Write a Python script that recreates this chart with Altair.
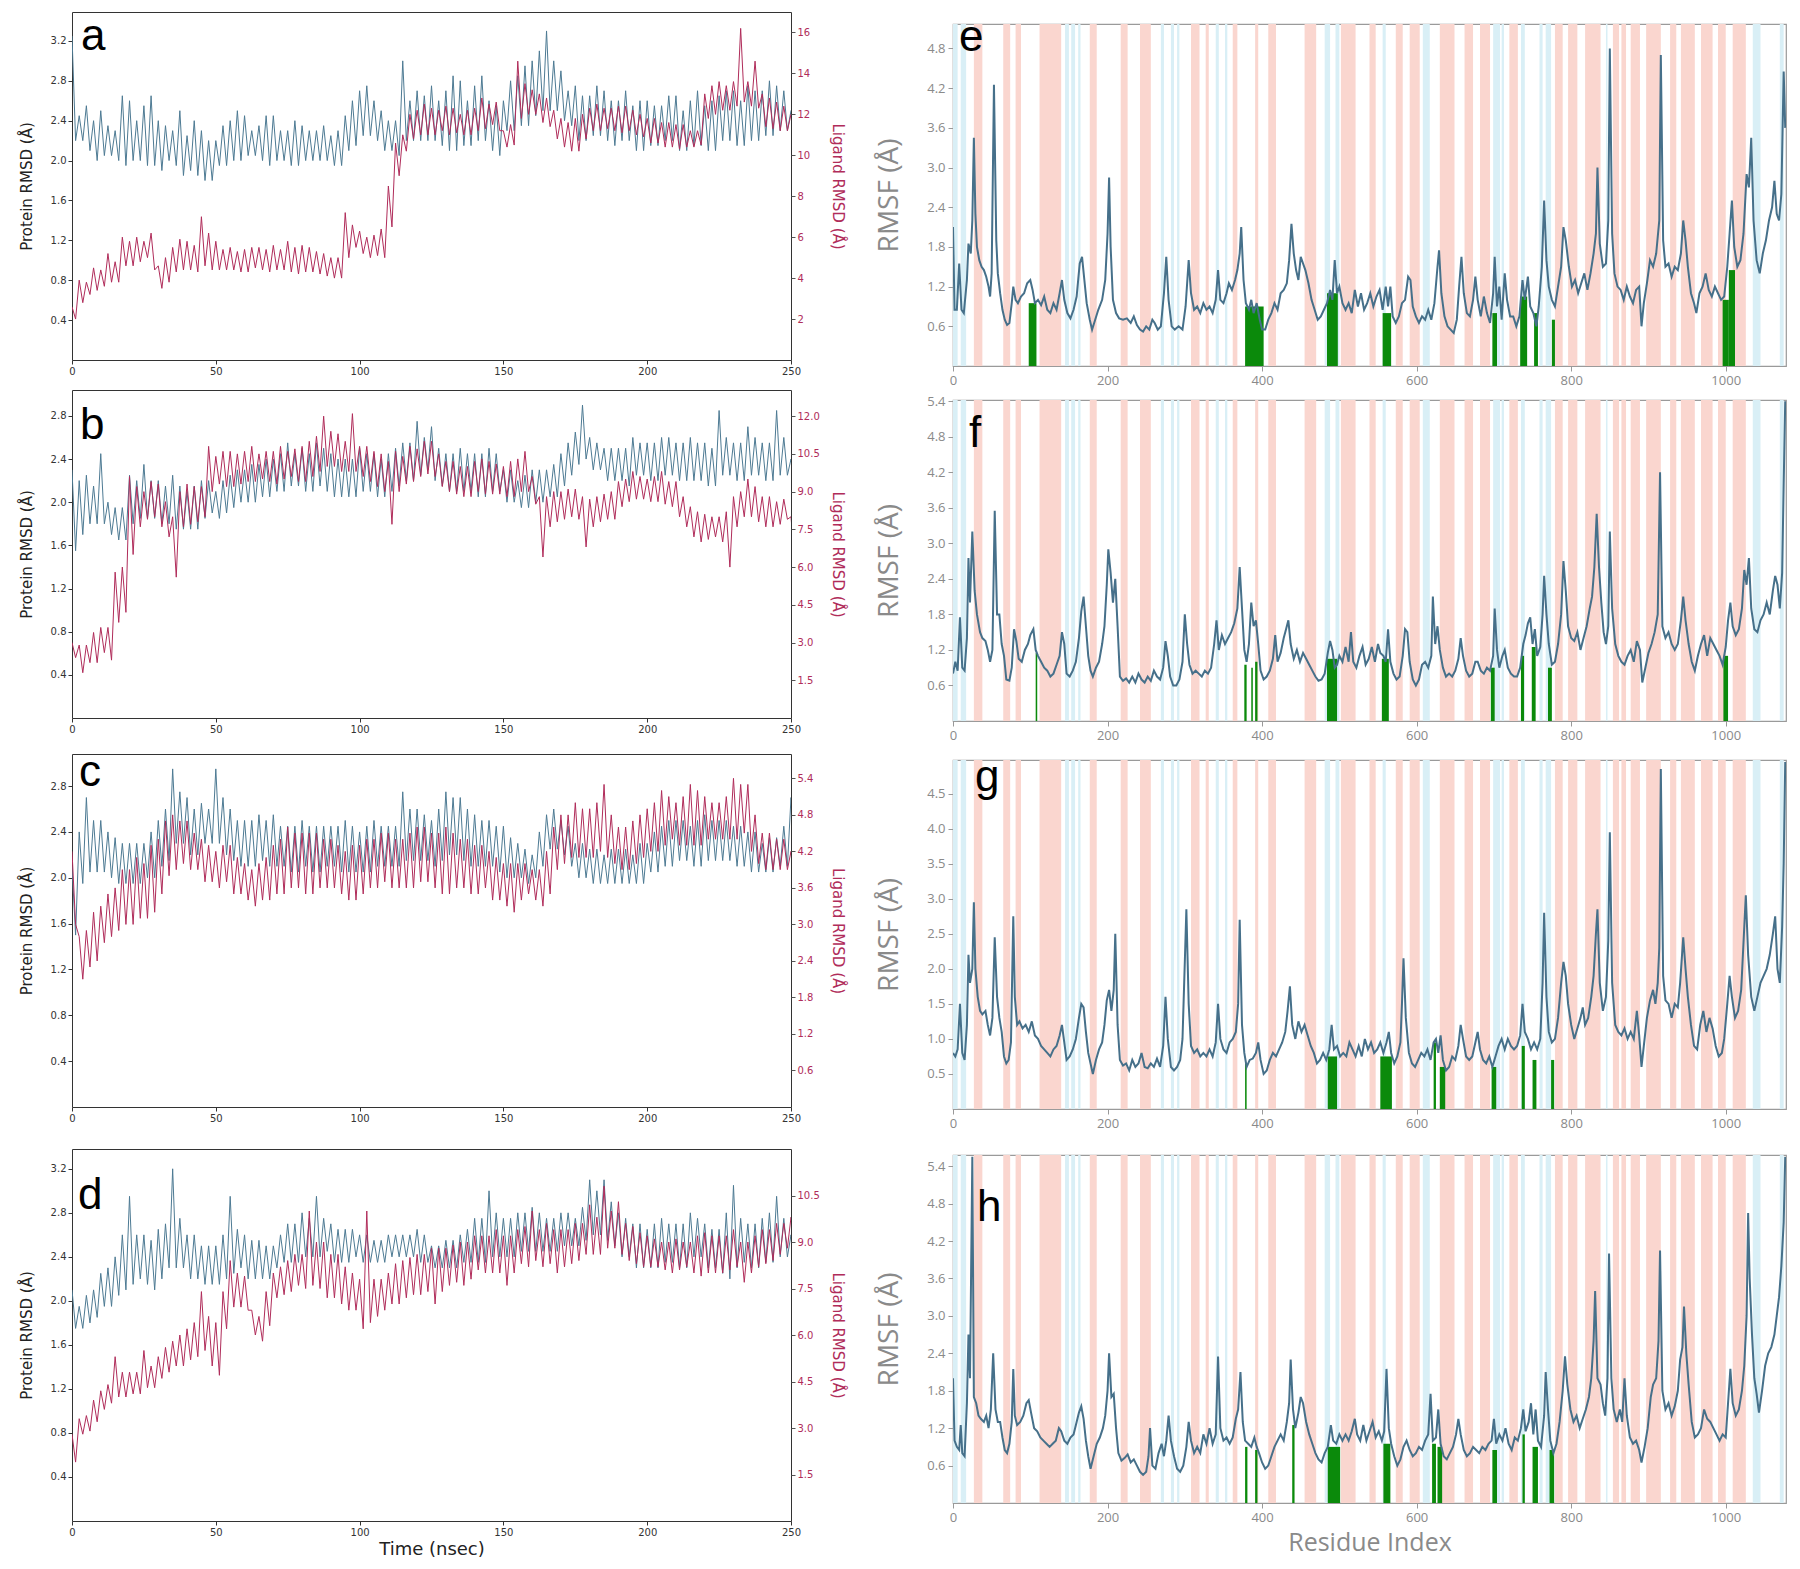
import altair as alt
import pandas as pd

# ---------------- colours / fonts ----------------
BLUE = "#4d7a93"
RED = "#b02c5a"
RMSF_BLUE = "#46708a"
GREEN = "#0b8a0b"
PINK = "#fad6cf"
LBLUE = "#d9eff6"
SANS = "DejaVu Sans"
RSANS = "Open Sans"
LETTER_FONT = "Liberation Sans"

# ---------------- RMSD data ----------------
# For every 2.5 ns window the upper (HI) and lower (LO) edge of the noisy trace,
# read off the picture. HI is drawn at the window start, LO half a window later.
WINDOW_START_NS = [2.5 * i for i in range(101)]

A_PROT_HI = [3.25, 2.45, 2.55, 2.4, 2.5, 2.35, 2.3, 2.65, 2.6, 2.4,
             2.55, 2.65, 2.4, 2.35, 2.3, 2.5, 2.25, 2.4, 2.3, 2.2,
             2.2, 2.35, 2.4, 2.5, 2.45, 2.3, 2.35, 2.45, 2.45, 2.3,
             2.3, 2.4, 2.35, 2.3, 2.3, 2.35, 2.25, 2.3, 2.45, 2.6,
             2.7, 2.75, 2.6, 2.5, 2.4, 2.4, 3.0, 2.6, 2.7, 2.65,
             2.75, 2.6, 2.7, 2.85, 2.8, 2.6, 2.75, 2.85, 2.6, 2.55,
             2.6, 2.8, 2.85, 2.95, 3.0, 3.1, 3.3, 3.0, 2.9, 2.7,
             2.75, 2.65, 2.65, 2.75, 2.7, 2.6, 2.6, 2.7, 2.55, 2.6,
             2.6, 2.55, 2.55, 2.65, 2.65, 2.5, 2.6, 2.7, 2.55, 2.6,
             2.65, 2.7, 2.7, 2.6, 2.75, 2.7, 2.7, 2.8, 2.75, 2.7,
             2.5]
A_PROT_LO = [2.2, 2.2, 2.1, 2.0, 2.05, 2.05, 2.0, 1.95, 2.0, 2.0,
             1.95, 1.95, 1.9, 2.0, 1.95, 1.85, 1.9, 1.85, 1.8, 1.8,
             1.95, 1.95, 2.0, 2.0, 2.05, 2.05, 2.0, 1.95, 2.0, 2.0,
             1.95, 1.95, 2.0, 2.0, 2.0, 2.0, 1.95, 1.95, 2.1, 2.15,
             2.25, 2.25, 2.2, 2.1, 2.1, 2.05, 2.2, 2.2, 2.2, 2.2,
             2.2, 2.15, 2.1, 2.1, 2.15, 2.15, 2.2, 2.2, 2.1, 2.05,
             2.3, 2.3, 2.35, 2.35, 2.45, 2.5, 2.5, 2.5, 2.4, 2.35,
             2.2, 2.2, 2.25, 2.25, 2.2, 2.15, 2.2, 2.2, 2.1, 2.1,
             2.15, 2.15, 2.2, 2.2, 2.1, 2.1, 2.15, 2.15, 2.1, 2.1,
             2.2, 2.2, 2.15, 2.15, 2.2, 2.2, 2.25, 2.25, 2.3, 2.3,
             2.45]
A_LIG_HI = [2.6, 3.9, 3.8, 4.5, 4.4, 5.2, 4.8, 6.0, 5.8, 6.0,
            5.8, 6.2, 4.6, 5.0, 5.5, 5.9, 5.8, 5.6, 7.0, 6.2,
            5.8, 5.4, 5.5, 5.3, 5.4, 5.5, 5.5, 5.4, 5.6, 5.4,
            5.8, 5.5, 5.6, 5.5, 5.3, 5.2, 5.0, 5.0, 7.2, 6.6,
            6.3, 6.0, 6.1, 6.4, 8.5, 10.6, 11.0, 12.0, 12.2, 12.5,
            12.3, 12.2, 12.4, 12.3, 12.0, 12.2, 12.3, 12.8, 12.5, 12.6,
            11.2, 11.5, 14.6, 13.5, 13.2, 13.0, 12.8, 12.2, 11.8, 11.6,
            11.8, 12.0, 12.3, 12.5, 12.3, 12.3, 12.4, 12.4, 12.2, 12.0,
            11.8, 11.8, 11.6, 11.6, 11.5, 11.5, 11.2, 11.2, 13.0, 13.4,
            13.6, 13.4, 13.6, 16.2, 13.6, 14.6, 13.0, 12.8, 12.6, 12.4,
            12.0]
A_LIG_LO = [2.0, 2.8, 3.2, 3.4, 3.6, 3.8, 3.8, 4.6, 4.6, 4.8,
            5.0, 4.4, 3.5, 3.8, 4.3, 4.4, 4.4, 4.3, 4.6, 4.4,
            4.4, 4.4, 4.4, 4.3, 4.3, 4.5, 4.4, 4.3, 4.4, 4.4,
            4.3, 4.2, 4.3, 4.3, 4.2, 4.1, 4.0, 4.0, 5.0, 5.5,
            5.2, 5.0, 5.1, 5.0, 6.5, 9.0, 10.2, 10.8, 11.0, 11.0,
            11.0, 11.2, 11.0, 11.1, 11.0, 11.0, 11.2, 11.3, 11.5, 11.2,
            10.4, 10.5, 11.8, 12.0, 12.0, 11.6, 11.4, 10.8, 10.4, 10.2,
            10.2, 10.8, 11.2, 11.2, 11.3, 11.2, 11.1, 11.2, 11.0, 10.9,
            10.6, 10.6, 10.4, 10.4, 10.3, 10.4, 10.4, 10.5, 11.8, 12.0,
            12.2, 12.2, 12.4, 12.6, 12.4, 12.3, 11.4, 11.3, 11.2, 11.2,
            11.6]

B_PROT_HI = [2.3, 2.2, 2.25, 2.15, 2.45, 2.0, 1.95, 1.95, 2.25, 2.2,
             2.35, 2.2, 2.2, 2.15, 2.25, 2.15, 2.1, 2.15, 2.2, 2.2,
             2.1, 2.2, 2.25, 2.3, 2.3, 2.35, 2.35, 2.4, 2.4, 2.45,
             2.55, 2.45, 2.5, 2.45, 2.55, 2.5, 2.45, 2.4, 2.4, 2.4,
             2.5, 2.45, 2.45, 2.4, 2.45, 2.5, 2.55, 2.55, 2.75, 2.6,
             2.7, 2.5, 2.45, 2.45, 2.5, 2.45, 2.45, 2.45, 2.5, 2.45,
             2.3, 2.3, 2.2, 2.25, 2.3, 2.3, 2.3, 2.35, 2.45, 2.55,
             2.65, 2.9, 2.6, 2.55, 2.5, 2.5, 2.5, 2.5, 2.6, 2.55,
             2.55, 2.55, 2.6, 2.6, 2.55, 2.55, 2.6, 2.55, 2.55, 2.5,
             2.85, 2.6, 2.55, 2.55, 2.7, 2.6, 2.55, 2.55, 2.85, 2.6,
             2.4]
B_PROT_LO = [1.55, 1.7, 1.8, 1.8, 1.8, 1.7, 1.65, 1.65, 1.8, 1.85,
             1.85, 1.85, 1.8, 1.8, 1.75, 1.75, 1.75, 1.75, 1.85, 1.9,
             1.85, 1.9, 1.95, 2.0, 2.0, 2.0, 2.05, 2.05, 2.1, 2.1,
             2.15, 2.15, 2.1, 2.1, 2.15, 2.1, 2.05, 2.05, 2.05, 2.05,
             2.1, 2.1, 2.05, 2.05, 2.1, 2.15, 2.2, 2.2, 2.25, 2.3,
             2.2, 2.15, 2.1, 2.1, 2.1, 2.1, 2.05, 2.05, 2.1, 2.1,
             2.0, 2.0, 1.95, 1.95, 2.0, 2.0, 2.05, 2.05, 2.15, 2.25,
             2.35, 2.4, 2.3, 2.3, 2.2, 2.2, 2.2, 2.15, 2.25, 2.25,
             2.2, 2.2, 2.25, 2.25, 2.2, 2.2, 2.2, 2.2, 2.15, 2.15,
             2.25, 2.25, 2.2, 2.2, 2.25, 2.25, 2.2, 2.2, 2.25, 2.25,
             2.2]
B_LIG_HI = [3.0, 2.9, 2.9, 3.4, 3.6, 3.6, 5.8, 6.0, 9.6, 9.2,
            9.0, 9.4, 9.3, 8.6, 8.0, 9.0, 9.3, 9.2, 9.2, 10.8,
            10.4, 10.6, 10.6, 10.5, 10.6, 10.8, 10.5, 10.6, 10.6, 10.8,
            10.6, 10.7, 10.8, 11.0, 11.2, 12.0, 11.4, 11.3, 11.0, 12.1,
            10.8, 10.8, 10.6, 10.5, 10.2, 10.6, 10.4, 10.8, 10.7, 11.0,
            11.0, 10.5, 10.2, 10.2, 10.0, 10.0, 10.2, 10.3, 10.2, 10.1,
            10.0, 10.2, 10.3, 10.6, 9.6, 8.8, 8.8, 9.0, 9.0, 9.1,
            9.1, 8.8, 8.7, 8.8, 8.9, 9.0, 9.4, 9.5, 9.8, 9.6,
            9.5, 9.6, 9.8, 9.4, 9.4, 8.8, 8.4, 8.2, 8.1, 8.0,
            8.0, 8.2, 8.8, 9.0, 9.5, 9.2, 8.8, 8.8, 8.6, 8.7,
            8.0]
B_LIG_LO = [2.4, 1.8, 2.2, 2.2, 2.6, 2.3, 3.8, 4.2, 6.5, 7.6,
            7.9, 8.0, 7.6, 7.2, 5.6, 7.6, 7.7, 7.8, 8.0, 9.0,
            9.3, 9.2, 9.2, 9.3, 9.4, 9.4, 9.5, 9.4, 9.3, 9.5,
            9.6, 9.4, 9.4, 9.6, 9.8, 10.0, 10.0, 9.8, 9.8, 9.8,
            9.6, 9.4, 9.2, 9.0, 7.7, 9.0, 9.3, 9.4, 9.6, 9.7,
            9.6, 9.2, 9.0, 8.9, 8.8, 8.8, 9.0, 8.9, 8.9, 8.9,
            8.8, 8.8, 9.0, 9.0, 8.5, 6.4, 7.6, 7.8, 7.9, 8.0,
            7.9, 6.8, 7.6, 7.8, 7.9, 7.9, 8.4, 8.6, 8.7, 8.7,
            8.6, 8.6, 8.5, 8.4, 8.0, 7.6, 7.2, 7.0, 7.1, 7.2,
            7.0, 6.0, 7.6, 8.0, 8.0, 7.8, 7.6, 7.6, 7.7, 7.9,
            6.2]

C_PROT_HI = [2.1, 2.4, 2.7, 2.5, 2.5, 2.4, 2.35, 2.3, 2.3, 2.3,
             2.3, 2.4, 2.5, 2.6, 2.95, 2.75, 2.7, 2.6, 2.65, 2.6,
             2.95, 2.7, 2.6, 2.5, 2.5, 2.5, 2.55, 2.5, 2.55, 2.45,
             2.45, 2.45, 2.5, 2.45, 2.45, 2.45, 2.45, 2.45, 2.5, 2.45,
             2.4, 2.45, 2.5, 2.45, 2.45, 2.45, 2.75, 2.6, 2.6, 2.55,
             2.5, 2.6, 2.75, 2.7, 2.7, 2.6, 2.55, 2.5, 2.5, 2.45,
             2.45, 2.35, 2.3, 2.25, 2.2, 2.4, 2.55, 2.6, 2.5, 2.45,
             2.3, 2.3, 2.25, 2.25, 2.2, 2.25, 2.25, 2.25, 2.2, 2.3,
             2.3, 2.4, 2.45, 2.5, 2.5, 2.5, 2.45, 2.5, 2.55, 2.5,
             2.5, 2.5, 2.45, 2.45, 2.4, 2.4, 2.3, 2.35, 2.35, 2.45,
             2.7]
C_PROT_LO = [1.5, 1.95, 2.05, 2.05, 2.05, 2.0, 1.95, 1.95, 1.95, 1.95,
             2.0, 2.0, 2.1, 2.15, 2.3, 2.3, 2.2, 2.2, 2.3, 2.3,
             2.3, 2.2, 2.15, 2.1, 2.1, 2.1, 2.15, 2.1, 2.1, 2.1,
             2.05, 2.05, 2.1, 2.05, 2.05, 2.1, 2.1, 2.05, 2.05, 2.05,
             2.05, 2.05, 2.1, 2.1, 2.1, 2.1, 2.15, 2.15, 2.15, 2.15,
             2.1, 2.15, 2.2, 2.2, 2.15, 2.1, 2.1, 2.1, 2.1, 2.05,
             2.0, 2.0, 2.0, 1.95, 2.0, 2.1, 2.25, 2.25, 2.2, 2.1,
             2.0, 2.0, 1.95, 1.95, 1.95, 1.95, 1.95, 1.95, 1.95, 1.95,
             2.05, 2.05, 2.1, 2.1, 2.15, 2.15, 2.1, 2.1, 2.15, 2.15,
             2.15, 2.15, 2.1, 2.1, 2.05, 2.05, 2.05, 2.05, 2.1, 2.1,
             2.3]
C_LIG_HI = [4.2, 2.8, 2.9, 3.2, 3.3, 3.5, 3.6, 3.9, 3.9, 4.1,
            4.0, 4.3, 4.4, 4.7, 4.8, 4.7, 4.7, 4.5, 4.4, 4.3,
            4.2, 4.3, 4.3, 4.1, 4.0, 3.9, 4.0, 4.1, 4.3, 4.4,
            4.6, 4.5, 4.5, 4.5, 4.5, 4.4, 4.4, 4.3, 4.2, 4.3,
            4.3, 4.4, 4.4, 4.5, 4.5, 4.4, 4.4, 4.5, 4.6, 4.6,
            4.5, 4.5, 4.6, 4.5, 4.4, 4.4, 4.3, 4.3, 4.2, 4.1,
            4.0, 4.0, 4.0, 4.0, 3.9, 3.9, 4.2, 4.6, 4.8, 4.8,
            5.0, 4.9, 4.9, 5.0, 5.3, 4.8, 4.6, 4.6, 4.7, 4.8,
            4.9, 5.0, 5.2, 5.1, 5.0, 5.1, 5.3, 5.2, 5.1, 5.0,
            5.0, 5.1, 5.4, 5.3, 5.3, 4.8, 4.5, 4.5, 4.4, 4.4,
            4.2]
C_LIG_LO = [3.0, 2.1, 2.3, 2.4, 2.7, 2.8, 2.9, 3.0, 3.0, 3.1,
            3.1, 3.2, 3.5, 3.8, 3.9, 4.0, 3.9, 3.9, 3.7, 3.7,
            3.6, 3.7, 3.5, 3.5, 3.4, 3.3, 3.4, 3.4, 3.5, 3.5,
            3.6, 3.6, 3.5, 3.5, 3.6, 3.6, 3.6, 3.5, 3.4, 3.4,
            3.5, 3.6, 3.6, 3.7, 3.6, 3.6, 3.6, 3.6, 3.7, 3.7,
            3.6, 3.5, 3.5, 3.6, 3.6, 3.5, 3.5, 3.6, 3.4, 3.4,
            3.3, 3.2, 3.4, 3.5, 3.4, 3.3, 3.5, 3.9, 4.0, 4.1,
            4.1, 4.1, 4.1, 4.2, 4.1, 4.0, 3.9, 3.9, 4.0, 4.1,
            4.2, 4.2, 4.3, 4.4, 4.3, 4.3, 4.3, 4.3, 4.4, 4.4,
            4.4, 4.4, 4.4, 4.5, 4.2, 4.0, 3.9, 3.9, 3.9, 3.9,
            3.9]

D_PROT_HI = [2.1, 1.95, 2.05, 2.1, 2.25, 2.3, 2.4, 2.6, 2.95, 2.6,
             2.6, 2.55, 2.65, 2.7, 3.2, 2.75, 2.6, 2.6, 2.5, 2.5,
             2.5, 2.6, 2.95, 2.65, 2.6, 2.55, 2.55, 2.5, 2.5, 2.6,
             2.7, 2.7, 2.8, 2.75, 2.95, 2.75, 2.7, 2.65, 2.65, 2.65,
             2.6, 2.6, 2.55, 2.55, 2.6, 2.6, 2.6, 2.6, 2.65, 2.6,
             2.5, 2.5, 2.55, 2.55, 2.6, 2.65, 2.75, 2.75, 3.0, 2.8,
             2.75, 2.75, 2.8, 2.8, 2.85, 2.8, 2.75, 2.75, 2.8, 2.8,
             2.75, 2.85, 3.1, 3.0, 3.1, 2.9, 2.8, 2.75, 2.7, 2.7,
             2.65, 2.7, 2.75, 2.7, 2.7, 2.7, 2.8, 2.75, 2.7, 2.65,
             2.65, 2.8, 3.05, 2.75, 2.7, 2.7, 2.75, 2.8, 2.95, 2.75,
             2.6]
D_PROT_LO = [1.75, 1.75, 1.8, 1.85, 1.95, 1.95, 2.05, 2.1, 2.15, 2.2,
             2.15, 2.1, 2.2, 2.3, 2.3, 2.3, 2.2, 2.2, 2.15, 2.15,
             2.15, 2.2, 2.25, 2.3, 2.2, 2.2, 2.2, 2.2, 2.3, 2.35,
             2.35, 2.35, 2.4, 2.4, 2.4, 2.45, 2.35, 2.35, 2.35, 2.4,
             2.35, 2.35, 2.35, 2.35, 2.4, 2.4, 2.4, 2.4, 2.35, 2.35,
             2.3, 2.3, 2.3, 2.3, 2.35, 2.35, 2.35, 2.35, 2.4, 2.4,
             2.4, 2.4, 2.45, 2.45, 2.45, 2.45, 2.45, 2.45, 2.5, 2.5,
             2.5, 2.55, 2.6, 2.6, 2.55, 2.5, 2.4, 2.4, 2.3, 2.3,
             2.3, 2.3, 2.35, 2.35, 2.3, 2.3, 2.4, 2.4, 2.3, 2.3,
             2.25, 2.2, 2.3, 2.35, 2.3, 2.3, 2.35, 2.35, 2.4, 2.4,
             2.45]
D_LIG_HI = [2.8, 3.3, 3.4, 3.9, 4.2, 4.4, 5.3, 4.8, 4.8, 4.8,
            5.5, 5.0, 5.3, 5.6, 5.8, 6.0, 6.2, 6.4, 7.4, 6.6,
            6.4, 7.4, 8.4, 8.0, 7.9, 6.8, 6.6, 7.4, 8.0, 8.2,
            8.4, 8.6, 8.6, 10.0, 9.0, 9.0, 8.6, 8.6, 8.2, 8.0,
            7.8, 10.0, 7.8, 7.8, 8.0, 8.3, 8.4, 8.5, 8.6, 8.6,
            8.8, 8.8, 8.8, 8.9, 9.0, 9.0, 9.2, 9.2, 9.2, 9.4,
            9.2, 9.2, 9.4, 9.5, 10.0, 9.4, 9.6, 9.4, 9.4, 9.4,
            9.6, 9.6, 10.2, 9.8, 10.8, 10.0, 10.3, 9.6, 9.5, 9.3,
            9.2, 9.1, 9.0, 9.0, 9.1, 9.0, 9.0, 9.2, 9.3, 9.2,
            9.2, 9.2, 9.4, 9.0, 9.0, 9.2, 9.4, 9.4, 9.6, 9.6,
            9.8]
D_LIG_LO = [1.9, 2.8, 2.9, 3.2, 3.6, 3.8, 4.0, 4.0, 4.1, 4.1,
            4.3, 4.3, 4.6, 4.8, 5.0, 5.0, 5.2, 5.3, 5.5, 5.0,
            4.7, 6.2, 6.9, 6.9, 6.8, 6.0, 5.8, 6.3, 7.2, 7.3,
            7.4, 7.6, 7.5, 7.6, 7.5, 7.2, 7.2, 7.0, 6.8, 6.8,
            6.2, 6.4, 6.6, 6.8, 7.0, 7.0, 7.2, 7.3, 7.3, 7.4,
            7.0, 7.4, 7.6, 7.7, 7.6, 7.8, 8.1, 8.0, 8.0, 8.0,
            7.6, 8.0, 8.3, 8.2, 8.4, 8.2, 8.3, 8.0, 8.2, 8.3,
            8.4, 8.6, 8.6, 8.6, 8.8, 8.8, 8.6, 8.4, 8.3, 8.2,
            8.2, 8.2, 8.1, 8.0, 8.1, 8.2, 8.0, 7.9, 8.0, 8.0,
            8.0, 8.1, 8.2, 7.7, 8.0, 8.2, 8.3, 8.4, 8.6, 8.8,
            9.2]

# ---------------- RMSF data ----------------
E_RES = [0, 2, 5, 8, 11, 14, 18, 20, 23, 25,
         27, 29, 31, 34, 37, 40, 43, 46, 48, 50,
         53, 56, 58, 61, 64, 67, 70, 73, 76, 78,
         81, 84, 88, 92, 96, 100, 103, 106, 110, 114,
         118, 122, 126, 130, 134, 138, 141, 144, 148, 152,
         156, 160, 164, 167, 170, 173, 177, 180, 184, 188,
         193, 197, 200, 202, 204, 207, 211, 215, 220, 225,
         230, 234, 238, 242, 246, 250, 254, 258, 261, 265,
         269, 273, 276, 279, 283, 287, 292, 297, 301, 305,
         308, 312, 316, 320, 324, 328, 332, 336, 340, 343,
         346, 350, 354, 357, 361, 365, 368, 371, 373, 376,
         379, 383, 386, 389, 393, 397, 400, 404, 408, 412,
         416, 420, 424, 428, 432, 435, 438, 441, 444, 447,
         450, 453, 456, 460, 464, 468, 472, 476, 480, 484,
         488, 491, 494, 497, 500, 504, 508, 512, 516, 520,
         524, 528, 532, 536, 540, 544, 548, 552, 556, 560,
         563, 566, 569, 573, 577, 581, 585, 589, 592, 595,
         599, 603, 607, 611, 615, 619, 623, 627, 629, 632,
         636, 640, 644, 648, 652, 655, 658, 661, 665, 669,
         673, 676, 679, 683, 687, 691, 695, 699, 701, 704,
         707, 710, 714, 717, 721, 725, 729, 733, 737, 740,
         744, 747, 751, 755, 758, 762, 765, 768, 771, 775,
         779, 783, 787, 790, 793, 797, 801, 805, 809, 813,
         817, 821, 825, 829, 832, 834, 837, 841, 845, 848,
         850, 853, 856, 860, 864, 868, 872, 876, 880, 884,
         888, 891, 894, 898, 902, 906, 910, 914, 916, 919,
         922, 926, 930, 934, 938, 942, 945, 948, 951, 955,
         959, 962, 966, 970, 974, 978, 982, 986, 990, 994,
         998, 1002, 1005, 1008, 1011, 1015, 1019, 1023, 1027, 1030,
         1033, 1036, 1040, 1044, 1048, 1052, 1056, 1060, 1063, 1066,
         1069, 1072, 1075, 1077]
E_RMSF = [2.1, 0.85, 0.85, 1.55, 0.85, 0.8, 1.3, 1.85, 1.7, 2.2,
          3.45, 2.3, 1.8, 1.6, 1.5, 1.45, 1.35, 1.2, 1.05, 1.4,
          4.25, 1.9, 1.4, 1.1, 0.85, 0.7, 0.62, 0.65, 0.95, 1.2,
          1.0, 0.95, 1.05, 1.1, 1.25, 1.3, 1.15, 0.95, 1.0, 0.92,
          1.05, 0.85, 0.8, 0.95, 0.85, 1.1, 1.3, 1.0, 0.8, 0.72,
          0.85, 1.05, 1.55, 1.65, 1.3, 0.95, 0.7, 0.55, 0.7, 0.85,
          1.0, 1.3, 2.0, 2.85, 1.8, 1.0, 0.8, 0.72, 0.7, 0.72,
          0.65, 0.75, 0.62, 0.55, 0.52, 0.6, 0.55, 0.7, 0.65, 0.55,
          0.6, 1.1, 1.65, 1.0, 0.6, 0.55, 0.6, 0.55, 0.9, 1.6,
          1.1, 0.85, 0.9, 0.8, 0.95, 0.85, 0.9, 0.8, 1.0, 1.45,
          1.0, 0.95, 1.1, 1.25, 1.15, 1.3, 1.45, 1.7, 2.1, 1.3,
          0.95, 0.85, 1.0, 0.8, 0.95, 0.7, 0.55, 0.55, 0.7, 0.8,
          0.95, 0.85, 1.1, 1.15, 1.25, 1.6, 2.15, 1.7, 1.45, 1.3,
          1.65, 1.55, 1.45, 1.25, 1.0, 0.85, 0.7, 0.75, 0.85, 0.95,
          1.15, 1.0, 1.6, 1.1, 1.2, 0.95, 0.85, 0.95, 0.8, 1.15,
          0.9, 1.1, 0.85, 0.95, 1.1, 0.9, 1.05, 1.15, 0.85, 1.2,
          0.9, 1.2, 0.75, 0.65, 0.75, 0.95, 1.0, 1.35, 1.3, 0.9,
          0.75, 0.65, 0.75, 0.7, 0.85, 0.7, 0.95, 1.5, 1.75, 1.1,
          0.75, 0.6, 0.55, 0.5, 0.7, 1.2, 1.65, 1.1, 0.8, 0.75,
          1.0, 1.35, 1.0, 0.75, 1.05, 0.8, 0.65, 1.1, 1.65, 0.9,
          1.2, 0.7, 1.4, 1.0, 0.75, 0.75, 0.6, 0.75, 1.3, 1.0,
          1.35, 0.9, 0.8, 0.6, 0.9, 1.5, 2.5, 1.6, 1.2, 1.0,
          0.9, 1.2, 1.5, 2.1, 1.9, 1.5, 1.2, 1.3, 1.1, 1.25,
          1.4, 1.15, 1.4, 1.7, 2.0, 3.0, 1.85, 1.5, 1.55, 2.2,
          4.8, 2.0, 1.4, 1.2, 1.15, 1.0, 1.2, 1.05, 0.95, 1.15,
          1.2, 0.6, 0.95, 1.25, 1.6, 1.5, 1.7, 2.2, 4.7, 1.9,
          1.5, 1.55, 1.35, 1.5, 1.45, 1.7, 2.2, 1.9, 1.5, 1.1,
          0.95, 0.8, 1.1, 1.2, 1.4, 1.15, 1.05, 1.2, 1.1, 1.0,
          1.05, 1.5, 2.0, 2.5, 1.8, 1.5, 1.6, 2.0, 2.9, 2.7,
          3.45, 2.2, 1.6, 1.4, 1.7, 1.9, 2.2, 2.4, 2.8, 2.3,
          2.2, 2.6, 4.45, 3.6]

F_RES = [0, 3, 6, 9, 12, 15, 18, 20, 22, 25,
         28, 31, 35, 38, 42, 45, 48, 51, 54, 57,
         60, 63, 66, 69, 73, 76, 79, 82, 85, 89,
         93, 97, 100, 104, 107, 110, 114, 118, 122, 126,
         130, 134, 138, 141, 144, 147, 151, 155, 159, 163,
         166, 169, 172, 175, 178, 181, 185, 189, 193, 196,
         199, 201, 204, 207, 210, 213, 216, 220, 224, 228,
         232, 236, 240, 244, 248, 252, 256, 260, 264, 268,
         272, 275, 278, 281, 285, 289, 293, 297, 300, 303,
         306, 310, 314, 318, 322, 326, 330, 334, 338, 341,
         344, 348, 352, 356, 360, 364, 368, 371, 374, 377,
         380, 383, 386, 389, 392, 395, 398, 402, 406, 410,
         414, 417, 420, 424, 428, 431, 434, 437, 441, 445,
         449, 453, 457, 461, 465, 469, 473, 477, 481, 485,
         488, 491, 494, 497, 500, 504, 508, 512, 515, 518,
         522, 526, 530, 534, 538, 542, 546, 550, 553, 557,
         560, 563, 566, 570, 574, 578, 582, 585, 588, 591,
         595, 599, 603, 607, 611, 615, 619, 621, 624, 627,
         630, 634, 638, 642, 646, 650, 654, 657, 660, 664,
         668, 672, 676, 679, 683, 687, 691, 695, 699, 701,
         704, 707, 711, 714, 718, 722, 726, 730, 734, 738,
         741, 744, 747, 750, 753, 756, 760, 763, 765, 768,
         771, 775, 779, 783, 787, 790, 793, 796, 800, 804,
         808, 812, 816, 820, 824, 827, 830, 833, 836, 839,
         842, 845, 848, 850, 853, 857, 861, 865, 869, 873,
         877, 881, 885, 889, 892, 896, 900, 904, 908, 912,
         915, 918, 922, 926, 930, 934, 938, 942, 945, 948,
         952, 956, 960, 964, 968, 972, 976, 980, 984, 988,
         992, 996, 1000, 1003, 1006, 1009, 1013, 1017, 1021, 1024,
         1027, 1030, 1033, 1037, 1041, 1045, 1049, 1053, 1057, 1061,
         1064, 1067, 1070, 1073, 1075, 1077]
F_RMSF = [0.8, 1.0, 0.85, 1.75, 0.9, 0.85, 1.4, 2.75, 2.0, 3.2,
          2.2, 1.8, 1.5, 1.4, 1.35, 1.2, 1.0, 1.2, 3.55, 1.8,
          1.8, 1.3, 1.1, 0.7, 0.68, 0.9, 1.55, 1.35, 1.05, 1.0,
          1.2, 1.3, 1.45, 1.55, 1.2, 1.1, 1.0, 0.9, 0.85, 0.75,
          0.8, 0.95, 1.1, 1.5, 1.3, 0.8, 0.75, 0.85, 1.0, 1.4,
          1.85, 2.1, 1.6, 1.1, 0.85, 0.75, 0.9, 1.0, 1.3, 1.6,
          2.3, 2.9, 2.5, 2.0, 2.4, 1.6, 0.75, 0.68, 0.72, 0.65,
          0.75, 0.65, 0.8, 0.7, 0.65, 0.75, 0.68, 0.85, 0.75, 0.7,
          0.9, 1.35, 1.1, 0.75, 0.6, 0.6, 0.7, 1.0, 1.8, 1.3,
          0.95, 0.8, 0.85, 0.8, 0.75, 0.85, 0.8, 0.9, 1.3, 1.7,
          1.2, 1.45, 1.3, 1.4, 1.5, 1.65, 1.9, 2.6, 1.9, 1.2,
          1.0, 1.3, 2.0, 1.6, 1.7, 1.3, 0.85, 0.7, 0.75, 0.85,
          1.05, 1.45, 1.0, 1.15, 1.4, 1.55, 1.7, 1.3, 1.05, 1.2,
          1.0, 1.15, 1.05, 0.95, 0.85, 0.75, 0.68, 0.7, 0.8, 1.15,
          1.35, 1.2, 0.9, 0.95, 1.1, 1.0, 1.25, 1.0, 1.5, 1.0,
          0.9, 1.1, 1.25, 0.95, 1.05, 1.25, 1.0, 1.3, 1.15, 1.1,
          1.0, 1.55, 1.0, 0.8, 0.7, 0.75, 1.1, 1.55, 1.5, 1.0,
          0.7, 0.6, 0.7, 0.95, 1.0, 0.9, 1.1, 2.1, 1.3, 1.6,
          1.2, 0.9, 0.75, 0.8, 0.75, 0.85, 1.05, 1.4, 1.1, 0.85,
          0.75, 0.8, 1.0, 1.0, 0.85, 0.8, 0.9, 0.85, 1.1, 1.9,
          1.2, 0.9, 1.1, 1.2, 0.9, 0.8, 0.75, 0.75, 0.9, 1.3,
          1.45, 1.65, 1.75, 1.3, 1.55, 1.1, 1.25, 1.8, 2.45, 1.8,
          1.3, 0.95, 1.0, 1.3, 1.8, 2.7, 2.2, 1.6, 1.4, 1.35,
          1.5, 1.2, 1.4, 1.6, 1.9, 2.1, 2.6, 3.5, 2.6, 2.0,
          1.5, 1.3, 1.6, 3.2, 1.9, 1.3, 1.1, 1.0, 0.95, 1.1,
          1.2, 1.0, 1.35, 1.2, 0.65, 0.9, 1.15, 1.3, 1.5, 1.8,
          4.2, 1.6, 1.4, 1.5, 1.3, 1.2, 1.3, 1.7, 2.1, 1.7,
          1.3, 1.0, 0.85, 1.1, 1.3, 1.45, 1.1, 1.4, 1.3, 1.2,
          1.1, 0.95, 1.25, 1.7, 2.0, 1.6, 1.45, 1.55, 1.9, 2.55,
          2.3, 2.75, 1.9, 1.55, 1.5, 1.7, 1.8, 2.0, 1.8, 2.2,
          2.45, 2.3, 1.9, 2.5, 4.0, 5.4]

G_RES = [0, 3, 6, 9, 12, 15, 18, 20, 22, 25,
         27, 29, 32, 35, 38, 42, 45, 48, 51, 54,
         57, 60, 63, 66, 69, 72, 75, 78, 80, 83,
         86, 90, 94, 98, 102, 106, 110, 114, 118, 122,
         126, 130, 134, 138, 141, 144, 147, 151, 155, 159,
         163, 166, 169, 172, 175, 178, 181, 185, 189, 193,
         196, 199, 202, 205, 208, 210, 213, 216, 220, 224,
         228, 232, 236, 240, 244, 248, 252, 256, 260, 264,
         268, 272, 275, 278, 282, 286, 290, 294, 297, 300,
         302, 305, 308, 312, 316, 320, 324, 328, 332, 336,
         340, 343, 346, 350, 354, 358, 362, 366, 369, 371,
         374, 377, 380, 384, 388, 392, 395, 398, 402, 406,
         410, 414, 418, 422, 426, 430, 433, 436, 439, 443,
         447, 451, 455, 459, 463, 467, 471, 475, 479, 483,
         487, 490, 493, 497, 501, 505, 509, 513, 517, 521,
         525, 529, 533, 537, 541, 545, 549, 553, 557, 561,
         564, 567, 571, 575, 579, 581, 583, 586, 590, 594,
         598, 602, 606, 610, 614, 618, 622, 625, 628, 631,
         634, 638, 642, 646, 650, 654, 657, 660, 664, 668,
         672, 676, 679, 682, 686, 690, 694, 698, 702, 706,
         710, 714, 718, 722, 726, 730, 734, 737, 740, 744,
         748, 752, 756, 760, 763, 765, 768, 771, 775, 779,
         783, 787, 790, 793, 796, 800, 804, 808, 812, 815,
         818, 822, 826, 829, 832, 834, 837, 841, 845, 848,
         850, 853, 857, 861, 865, 869, 873, 877, 881, 885,
         888, 891, 894, 898, 902, 906, 909, 912, 914, 916,
         919, 922, 926, 930, 934, 938, 941, 945, 948, 951,
         955, 959, 963, 967, 971, 975, 979, 983, 987, 991,
         995, 998, 1002, 1005, 1008, 1012, 1016, 1020, 1024, 1026,
         1029, 1033, 1037, 1041, 1045, 1049, 1053, 1057, 1061, 1064,
         1067, 1070, 1073, 1075, 1077]
G_RMSF = [0.8, 0.75, 0.85, 1.5, 0.8, 0.7, 1.2, 2.2, 1.8, 2.0,
          2.95, 2.0, 1.6, 1.4, 1.35, 1.4, 1.2, 1.05, 1.3, 2.45,
          1.6, 1.3, 1.1, 0.75, 0.65, 0.7, 0.95, 2.75, 1.6, 1.2,
          1.25, 1.15, 1.2, 1.1, 1.25, 1.05, 1.0, 0.9, 0.85, 0.8,
          0.75, 0.85, 0.9, 1.05, 1.2, 0.95, 0.7, 0.75, 0.85, 1.0,
          1.3, 1.5, 1.45, 1.1, 0.8, 0.65, 0.5, 0.7, 0.85, 0.95,
          1.2, 1.55, 1.7, 1.4, 1.7, 2.5, 1.2, 0.7, 0.62, 0.65,
          0.55, 0.7, 0.6, 0.65, 0.8, 0.6, 0.58, 0.65, 0.6, 0.72,
          0.6, 0.9, 1.6, 1.0, 0.6, 0.55, 0.6, 0.7, 1.0, 2.1,
          2.85, 1.5, 0.9, 0.8, 0.85, 0.75, 0.8, 0.75, 0.85, 0.75,
          0.95, 1.5, 1.0, 0.85, 0.8, 0.95, 1.0, 1.1, 1.5, 2.7,
          1.2, 0.8, 0.6, 0.7, 0.72, 0.8, 0.95, 0.7, 0.5, 0.55,
          0.7, 0.8, 0.75, 0.85, 0.95, 1.1, 1.4, 1.75, 1.2, 1.0,
          1.25, 1.1, 1.2, 1.05, 0.9, 0.8, 0.65, 0.7, 0.8, 0.7,
          0.85, 1.2, 0.85, 0.9, 0.75, 0.8, 0.75, 0.95, 0.85, 0.75,
          0.9, 0.75, 1.0, 0.85, 0.95, 0.8, 0.85, 0.95, 0.8, 0.95,
          1.1, 0.8, 0.65, 0.75, 0.95, 1.5, 2.15, 1.3, 0.8, 0.65,
          0.6, 0.7, 0.8, 0.75, 0.85, 0.7, 0.95, 1.0, 0.8, 1.05,
          0.7, 0.55, 0.6, 0.75, 0.7, 0.9, 1.2, 1.0, 0.75, 0.7,
          0.75, 0.95, 1.1, 0.85, 0.7, 0.65, 0.75, 0.6, 0.75, 0.9,
          1.0, 0.85, 1.0, 0.9, 0.85, 0.9, 1.05, 1.5, 1.1, 1.0,
          0.85, 0.95, 0.85, 1.0, 1.8, 2.8, 1.6, 1.1, 0.95, 1.0,
          1.3, 1.8, 2.1, 1.9, 1.5, 1.2, 1.0, 1.15, 1.3, 1.45,
          1.2, 1.3, 1.6, 1.9, 2.5, 2.85, 1.8, 1.4, 1.6, 2.4,
          3.95, 1.8, 1.2, 1.1, 1.05, 1.15, 1.0, 1.1, 1.0, 1.4,
          1.05, 0.6, 0.9, 1.3, 1.55, 1.7, 1.5, 1.8, 2.3, 4.85,
          1.9, 1.55, 1.5, 1.3, 1.5, 1.45, 1.8, 2.45, 2.0, 1.6,
          1.2, 0.9, 0.85, 1.2, 1.4, 1.1, 1.3, 1.15, 0.9, 0.75,
          0.8, 1.0, 1.5, 1.9, 1.6, 1.3, 1.4, 1.7, 2.6, 3.05,
          2.2, 1.6, 1.4, 1.6, 1.8, 1.9, 2.0, 2.2, 2.5, 2.75,
          2.0, 1.8, 2.6, 3.5, 4.95]

H_RES = [0, 2, 5, 8, 10, 12, 15, 18, 20, 22,
         25, 27, 30, 33, 36, 40, 43, 46, 49, 52,
         55, 58, 61, 64, 67, 70, 73, 76, 78, 80,
         83, 87, 91, 95, 98, 101, 105, 109, 113, 117,
         121, 125, 129, 133, 137, 140, 144, 148, 152, 156,
         160, 163, 166, 169, 172, 175, 178, 182, 186, 190,
         194, 197, 200, 202, 205, 208, 211, 214, 218, 222,
         226, 230, 234, 238, 242, 246, 250, 253, 255, 258,
         262, 266, 270, 273, 276, 279, 282, 286, 290, 294,
         298, 302, 305, 308, 312, 316, 320, 324, 328, 332,
         336, 340, 343, 346, 350, 354, 358, 362, 366, 369,
         372, 375, 378, 382, 386, 390, 393, 396, 400, 404,
         408, 412, 416, 420, 424, 428, 432, 435, 437, 440,
         443, 447, 450, 453, 457, 461, 465, 469, 473, 477,
         481, 485, 489, 492, 496, 500, 504, 508, 512, 516,
         520, 523, 527, 531, 535, 539, 543, 547, 551, 555,
         558, 561, 564, 567, 571, 575, 579, 583, 587, 591,
         595, 599, 603, 607, 611, 615, 618, 621, 625, 628,
         631, 635, 639, 643, 647, 651, 654, 657, 661, 665,
         669, 673, 677, 681, 685, 689, 693, 697, 700, 703,
         707, 711, 715, 719, 723, 727, 731, 735, 738, 741,
         745, 748, 751, 754, 757, 761, 765, 767, 770, 773,
         777, 781, 785, 789, 792, 795, 799, 803, 807, 811,
         815, 819, 823, 826, 829, 831, 834, 838, 841, 844,
         847, 849, 852, 855, 859, 863, 866, 869, 872, 876,
         880, 884, 888, 891, 895, 899, 903, 906, 910, 913,
         915, 918, 922, 926, 930, 934, 938, 941, 944, 946,
         949, 952, 956, 960, 964, 968, 972, 976, 980, 984,
         988, 992, 996, 1000, 1003, 1006, 1009, 1013, 1017, 1021,
         1024, 1027, 1029, 1031, 1034, 1037, 1040, 1043, 1047, 1051,
         1055, 1059, 1063, 1066, 1069, 1072, 1075, 1077]
H_RMSF = [2.0, 1.0, 0.9, 0.85, 1.25, 0.8, 0.75, 1.6, 2.7, 2.0,
          5.55, 1.7, 1.6, 1.4, 1.35, 1.3, 1.4, 1.2, 1.5, 2.4,
          1.5, 1.3, 1.3, 1.05, 0.85, 0.8, 0.95, 1.3, 2.15, 1.4,
          1.25, 1.3, 1.4, 1.6, 1.65, 1.45, 1.2, 1.15, 1.05, 1.0,
          0.95, 0.9, 0.95, 1.0, 1.2, 1.15, 1.0, 0.95, 1.05, 1.1,
          1.3, 1.45, 1.55, 1.35, 1.0, 0.75, 0.55, 0.75, 0.95, 1.05,
          1.2, 1.4, 1.8, 2.4, 1.7, 1.75, 1.2, 0.8, 0.68, 0.72,
          0.78, 0.65, 0.7, 0.6, 0.5, 0.45, 0.5, 0.75, 1.2, 0.6,
          0.55, 0.8, 0.95, 0.75, 1.0, 1.4, 1.0, 0.75, 0.55, 0.5,
          0.6, 0.9, 1.3, 1.0, 0.8, 0.9, 0.8, 1.1, 0.95, 1.2,
          0.95, 1.1, 2.35, 1.2, 1.0, 1.05, 0.95, 1.05, 1.35, 1.5,
          2.1, 1.3, 1.0, 0.95, 0.9, 1.05, 0.9, 0.8, 0.65, 0.55,
          0.6, 0.75, 0.9, 1.0, 1.1, 1.0, 1.3, 1.6, 2.3, 1.5,
          1.2, 1.45, 1.7, 1.6, 1.3, 1.1, 0.95, 0.8, 0.7, 0.65,
          0.8, 0.9, 1.25, 1.0, 0.95, 1.1, 1.0, 1.1, 1.0, 1.15,
          1.35, 1.1, 1.0, 1.25, 1.0, 1.15, 1.3, 1.05, 1.15, 1.0,
          1.15, 2.15, 1.2, 0.95, 0.75, 0.6, 0.7, 0.9, 1.0, 0.85,
          0.75, 0.8, 0.9, 0.85, 1.0, 1.1, 1.75, 1.0, 1.05, 1.5,
          0.95, 0.75, 0.7, 0.8, 0.9, 1.1, 1.35, 1.1, 0.85, 0.75,
          0.8, 0.9, 0.85, 0.8, 0.9, 0.85, 0.95, 1.0, 1.35, 0.95,
          1.1, 1.0, 1.2, 0.95, 0.85, 1.05, 1.0, 1.2, 1.5, 1.15,
          1.3, 1.6, 1.1, 1.5, 1.0, 0.9, 1.4, 2.1, 1.5, 1.0,
          0.8, 0.95, 1.3, 1.8, 2.35, 1.9, 1.5, 1.3, 1.4, 1.2,
          1.35, 1.5, 1.7, 2.0, 2.6, 3.4, 2.0, 1.9, 1.6, 1.4,
          2.0, 4.0, 2.0, 1.5, 1.3, 1.5, 1.3, 2.0, 1.4, 1.05,
          0.95, 1.0, 0.85, 0.65, 0.9, 1.2, 1.7, 1.9, 2.0, 2.6,
          4.05, 1.8, 1.5, 1.6, 1.4, 1.55, 1.8, 2.3, 2.5, 3.15,
          2.4, 1.9, 1.3, 1.05, 1.1, 1.2, 1.5, 1.35, 1.3, 1.2,
          1.1, 1.0, 1.1, 1.05, 1.6, 2.15, 1.6, 1.4, 1.5, 1.8,
          2.2, 3.0, 4.65, 3.6, 2.7, 2.0, 1.75, 1.45, 1.8, 2.2,
          2.4, 2.5, 2.7, 3.0, 3.3, 3.8, 4.5, 5.55]

# secondary-structure bands (residue index ranges)
HELIX_START = [27, 65, 81, 112, 177, 217, 242, 308, 327, 362,
               391, 408, 455, 502, 539, 573, 591, 630, 662, 682,
               720, 779, 796, 818, 854, 865, 877, 897, 928, 942,
               968, 990, 1009]
HELIX_END = [38, 74, 88, 140, 186, 226, 256, 319, 331, 368,
             395, 418, 470, 521, 547, 582, 604, 649, 673, 695,
             731, 789, 808, 838, 862, 871, 889, 916, 936, 960,
             983, 1000, 1026]
STRAND_START = [0, 10, 145, 153, 162, 269, 282, 290, 340, 352,
                481, 495, 556, 608, 699, 710, 735, 759, 767, 845,
                1035, 1070]
STRAND_END = [6, 17, 150, 158, 165, 273, 286, 293, 344, 355,
              488, 500, 560, 617, 708, 713, 740, 763, 774, 847,
              1045, 1075]

# ligand-contact residues (green bars): start, end, height
E_CONTACT_START = [98, 378, 484, 556, 698, 734, 752, 775, 996, 1004]
E_CONTACT_END = [108, 402, 498, 567, 704, 743, 757, 779, 1004, 1012]
E_CONTACT_TOP = [0.95, 0.9, 1.1, 0.8, 0.8, 1.05, 0.8, 0.7, 1.0, 1.45]

F_CONTACT_START = [107, 377, 386, 391, 484, 555, 696, 735, 749, 770, 997]
F_CONTACT_END = [109, 380, 388, 394, 497, 564, 701, 739, 754, 775, 1003]
F_CONTACT_TOP = [1.15, 0.95, 0.9, 1.0, 1.05, 1.05, 0.9, 1.1, 1.25, 0.9, 1.1]

G_CONTACT_START = [378, 485, 553, 622, 630, 697, 736, 750, 774]
G_CONTACT_END = [380, 497, 568, 625, 637, 703, 740, 755, 778]
G_CONTACT_TOP = [0.65, 0.75, 0.75, 0.95, 0.6, 0.6, 0.9, 0.7, 0.7]

H_CONTACT_START = [378, 391, 439, 485, 557, 620, 627, 698, 737, 750, 772]
H_CONTACT_END = [381, 394, 442, 501, 566, 625, 633, 704, 740, 757, 778]
H_CONTACT_TOP = [0.9, 0.85, 1.25, 0.9, 0.95, 0.95, 0.9, 0.85, 1.1, 0.9, 0.85]

LEFT_W = 719
RIGHT_W = 833


def trace_frame(hi, lo, name):
    times, vals = [], []
    for t, h, l in zip(WINDOW_START_NS, hi, lo):
        times += [t, t + 1.25]
        vals += [h, l]
    return pd.DataFrame({"t": times, name: vals})


def letter_layer(letter, lx, ly):
    return alt.Chart(pd.DataFrame({"panel": [letter]})).mark_text(
        align="left", baseline="alphabetic", font=LETTER_FONT, fontSize=44, color="black"
    ).encode(text="panel:N", x=alt.value(lx), y=alt.value(ly))


def rmsd_panel(letter, phi, plo, lhi, llo, ldom, lticks, rdom, rticks, rfmt, height, lx, ly, xtitle=""):
    pdf = trace_frame(phi, plo, "protein")
    ldf = trace_frame(lhi, llo, "ligand")
    xkw = dict(values=[0, 50, 100, 150, 200, 250], format="d", labelFlush=False,
               labelFont=SANS, labelFontSize=10, labelColor="#333333",
               tickColor="#333333", tickSize=4, labelPadding=2, domain=False, grid=False)
    if xtitle:
        x_axis = alt.Axis(title=xtitle, titleFont=SANS, titleFontSize=18, titleFontWeight="normal",
                          titleColor="#222222", titlePadding=3, **xkw)
    else:
        x_axis = alt.Axis(title=None, **xkw)
    x = alt.X("t:Q", scale=alt.Scale(domain=[0, 250], nice=False, zero=False), axis=x_axis)
    p_line = alt.Chart(pdf).mark_line(color=BLUE, strokeWidth=1.0, clip=True).encode(
        x=x,
        y=alt.Y("protein:Q", scale=alt.Scale(domain=ldom, nice=False, zero=False),
                axis=alt.Axis(orient="left", values=lticks, format=".1f", title="Protein RMSD (Å)",
                              titleFont=SANS, titleFontSize=15, titleFontWeight="normal",
                              titleColor="#222222", titlePadding=6,
                              labelFont=SANS, labelFontSize=10, labelColor="#333333",
                              tickColor="#333333", tickSize=4, labelPadding=2,
                              domain=False, grid=False, minExtent=32, maxExtent=32)))
    l_line = alt.Chart(ldf).mark_line(color=RED, strokeWidth=1.0, clip=True).encode(
        x=x,
        y=alt.Y("ligand:Q", scale=alt.Scale(domain=rdom, nice=False, zero=False),
                axis=alt.Axis(orient="right", values=rticks, format=rfmt, title="Ligand RMSD (Å)",
                              titleFont="Liberation Sans Narrow, DejaVu Sans", titleFontSize=15,
                              titleFontWeight="normal", titleColor=RED, titlePadding=8,
                              labelFont=SANS, labelFontSize=10, labelColor=RED,
                              tickColor="#555555", tickSize=4, labelPadding=2,
                              domain=False, grid=False, minExtent=30, maxExtent=30)))
    return alt.layer(p_line, l_line, letter_layer(letter, lx, ly)).resolve_scale(
        y="independent").properties(width=LEFT_W, height=height,
                                    view=alt.ViewBackground(stroke="#333333", strokeWidth=1))


def rmsf_panel(letter, res, val, ydom, yticks, gs, ge, gt, height, lx, ly, xtitle=""):
    xs = alt.Scale(domain=[0, 1078], nice=False, zero=False)
    ys = alt.Scale(domain=ydom, nice=False, zero=False)
    xkw = dict(values=[0, 200, 400, 600, 800, 1000], format="d", labelFlush=False,
               labelFont=RSANS, labelFontSize=13, labelColor="#8a8a8a",
               tickColor="#999999", tickSize=5, labelPadding=3, domain=False, grid=False)
    if xtitle:
        x_axis = alt.Axis(title=xtitle, titleFont=RSANS, titleFontSize=25, titleFontWeight="normal",
                          titleColor="#8a8a8a", titlePadding=6, **xkw)
    else:
        x_axis = alt.Axis(title=None, **xkw)
    y_axis = alt.Axis(values=yticks, format=".1f", title="RMSF (Å)", titleFont=RSANS,
                      titleFontSize=28, titleFontWeight="normal", titleColor="#8a8a8a",
                      titlePadding=16, labelFont=RSANS, labelFontSize=13, labelColor="#8a8a8a",
                      tickColor="#999999", tickSize=5, labelPadding=3, domain=False, grid=False,
                      minExtent=34, maxExtent=34)
    helix_df = pd.DataFrame({"start": HELIX_START, "end": HELIX_END})
    strand_df = pd.DataFrame({"start": STRAND_START, "end": STRAND_END})
    green_df = pd.DataFrame({"start": gs, "end": ge, "top": gt})
    line_df = pd.DataFrame({"res": res, "rmsf": val})
    strand = alt.Chart(strand_df).mark_rect(color=LBLUE).encode(
        x=alt.X("start:Q", scale=xs, axis=x_axis), x2="end:Q")
    helix = alt.Chart(helix_df).mark_rect(color=PINK).encode(
        x=alt.X("start:Q", scale=xs, axis=x_axis), x2="end:Q")
    green = alt.Chart(green_df).mark_rect(color=GREEN).encode(
        x=alt.X("start:Q", scale=xs, axis=x_axis), x2="end:Q",
        y=alt.Y("top:Q", scale=ys, axis=y_axis), y2=alt.datum(0))
    line = alt.Chart(line_df).mark_line(color=RMSF_BLUE, strokeWidth=2, clip=True).encode(
        x=alt.X("res:Q", scale=xs, axis=x_axis),
        y=alt.Y("rmsf:Q", scale=ys, axis=y_axis))
    return alt.layer(strand, helix, green, line, letter_layer(letter, lx, ly)).properties(
        width=RIGHT_W, height=height,
        view=alt.ViewBackground(stroke="#9a9a9a", strokeWidth=1.2))


pa = rmsd_panel("a", A_PROT_HI, A_PROT_LO, A_LIG_HI, A_LIG_LO,
                [0, 3.49], [0.4, 0.8, 1.2, 1.6, 2.0, 2.4, 2.8, 3.2],
                [0, 17], [2, 4, 6, 8, 10, 12, 14, 16], "d", 348, 9, 38)
pb = rmsd_panel("b", B_PROT_HI, B_PROT_LO, B_LIG_HI, B_LIG_LO,
                [0, 3.04], [0.4, 0.8, 1.2, 1.6, 2.0, 2.4, 2.8],
                [0, 13.04], [1.5, 3.0, 4.5, 6.0, 7.5, 9.0, 10.5, 12.0], ".1f", 328, 8, 49)
pc = rmsd_panel("c", C_PROT_HI, C_PROT_LO, C_LIG_HI, C_LIG_LO,
                [0, 3.08], [0.4, 0.8, 1.2, 1.6, 2.0, 2.4, 2.8],
                [0, 5.8], [0.6, 1.2, 1.8, 2.4, 3.0, 3.6, 4.2, 4.8, 5.4], ".1f", 353, 7, 32)
pd_ = rmsd_panel("d", D_PROT_HI, D_PROT_LO, D_LIG_HI, D_LIG_LO,
                 [0, 3.38], [0.4, 0.8, 1.2, 1.6, 2.0, 2.4, 2.8, 3.2],
                 [0, 12], [1.5, 3.0, 4.5, 6.0, 7.5, 9.0, 10.5], ".1f", 372, 6, 60, "Time (nsec)")

pe = rmsf_panel("e", E_RES, E_RMSF, [0, 5.17], [0.6, 1.2, 1.8, 2.4, 3.0, 3.6, 4.2, 4.8],
                E_CONTACT_START, E_CONTACT_END, E_CONTACT_TOP, 342, 6, 27)
pf = rmsf_panel("f", F_RES, F_RMSF, [0, 5.42], [0.6, 1.2, 1.8, 2.4, 3.0, 3.6, 4.2, 4.8, 5.4],
                F_CONTACT_START, F_CONTACT_END, F_CONTACT_TOP, 321, 16, 47)
pg = rmsf_panel("g", G_RES, G_RMSF, [0, 4.98], [0.5, 1.0, 1.5, 2.0, 2.5, 3.0, 3.5, 4.0, 4.5],
                G_CONTACT_START, G_CONTACT_END, G_CONTACT_TOP, 349, 22, 31)
ph = rmsf_panel("h", H_RES, H_RMSF, [0, 5.58], [0.6, 1.2, 1.8, 2.4, 3.0, 3.6, 4.2, 4.8, 5.4],
                H_CONTACT_START, H_CONTACT_END, H_CONTACT_TOP, 348, 24, 66, "Residue Index")

# invisible 1-px spacer that lowers the right column a little
spacer = alt.Chart(pd.DataFrame({"s": [0]})).mark_rect(opacity=0).encode(
    x=alt.value(0), x2=alt.value(1), y=alt.value(0), y2=alt.value(1)).properties(
    width=RIGHT_W, height=1, view=alt.ViewBackground(strokeOpacity=0))

left_col = alt.vconcat(alt.vconcat(pa, pb, spacing=12), alt.vconcat(pc, pd_, spacing=24), spacing=15)
right_col = alt.vconcat(alt.vconcat(spacer, pe, spacing=2),
                        alt.vconcat(pf, alt.vconcat(pg, ph, spacing=23), spacing=12), spacing=6)

chart = alt.hconcat(left_col, right_col, spacing=29).properties(
    padding={"left": 10, "top": 3, "right": 5, "bottom": 4}
).configure(background="white")

chart.save("out.html", embed_options={"renderer": "svg", "actions": False})
